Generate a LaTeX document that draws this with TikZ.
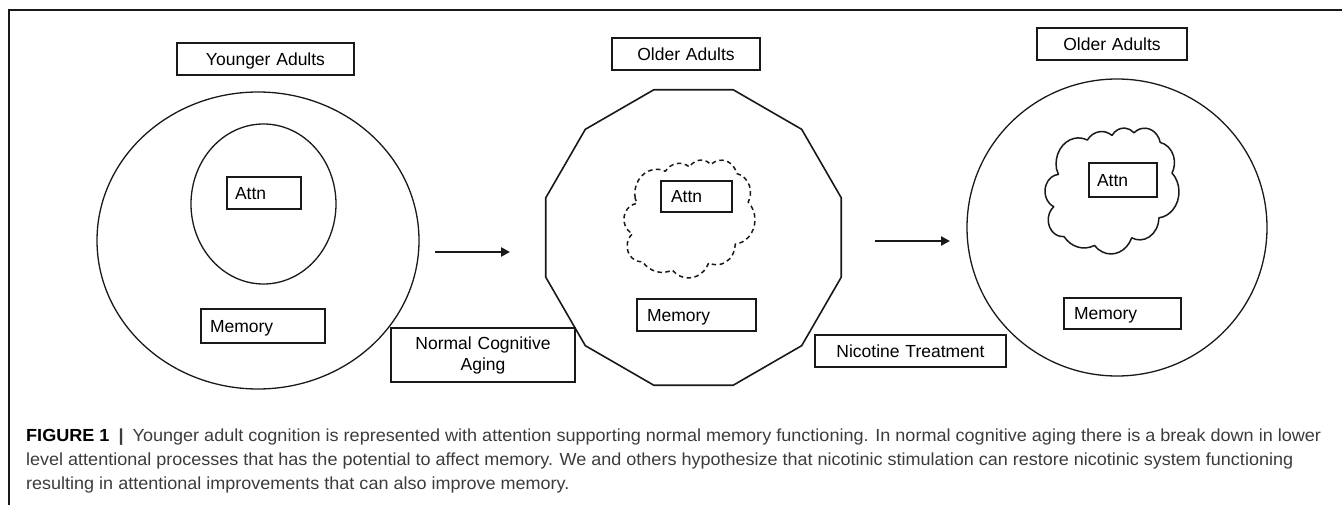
\documentclass[tikz,border=0pt]{standalone}
\usepackage{fontspec}
\setmainfont{Liberation Sans}
\usetikzlibrary{shapes.geometric,arrows.meta}
\definecolor{ink}{RGB}{25,25,25}
\definecolor{captext}{RGB}{60,60,60}
\newlength\capw
\newcommand\captwo{level attentional processes that has the potential to affect memory. We and others hypothesize that nicotinic stimulation can restore nicotinic system functioning}
\tikzset{
  x=1pt, y=-1pt,
  outline/.style={draw=ink, line width=1.3pt, inner sep=0pt},
  tagbox/.style 2 args={draw=ink, line width=1.6pt, fill=white, inner ysep=0pt,
    inner xsep=9pt, minimum width=#1, minimum height=#2,
    text width=#1-18pt, font=\fontsize{17.5}{21}\selectfont,
    text height=12.5pt, text depth=0pt},
  leftbox/.style 2 args={tagbox={#1}{#2}, align=left},
  midbox/.style 2 args={tagbox={#1}{#2}, align=center},
  flow/.style={draw=ink, line width=2.4pt, -{Triangle[length=9pt,width=9pt]}},
  capline/.style={anchor=base west, inner sep=0pt, text=captext,
    font=\fontsize{17.5}{24}\selectfont},
  % eleven-puff cloud outline drawn in a 432 x 445 unit frame
  puffcloud/.pic={
    \draw[pic actions, line join=round]
      (39,143.7)
      arc[start angle=-190.487, delta angle=123.781, x radius=67.53, y radius=91.90]
      arc[start angle=-144.102, delta angle=89.945,  x radius=53.33, y radius=72.67]
      arc[start angle=-145.808, delta angle=99.723,  x radius=43.65, y radius=59.45]
      arc[start angle=-130.986, delta angle=117.242, x radius=48.57, y radius=65.95]
      arc[start angle=-78.709,  delta angle=109.027, x radius=53.33, y radius=72.73]
      arc[start angle=-46.267,  delta angle=130.269, x radius=67.75, y radius=92.20]
      arc[start angle=0.625,    delta angle=114.033, x radius=57.85, y radius=78.67]
      arc[start angle=22.452,   delta angle=115.173, x radius=67.52, y radius=92.15]
      arc[start angle=66.243,   delta angle=75.711,  x radius=77.20, y radius=105.43]
      arc[start angle=-274.942, delta angle=146.736, x radius=43.60, y radius=59.18]
      arc[start angle=-246.829, delta angle=152.519, x radius=43.45, y radius=59.45]
      -- cycle;
  },
}
\begin{document}
\begin{tikzpicture}
\useasboundingbox[fill=white] (0,0) rectangle (1342,505);

% frame rules along the top and the left
\coordinate (frameTop) at (1342,10);
\coordinate (frameCorner) at (9,10);
\coordinate (frameBottom) at (9,505);
\draw[ink, line width=1.4pt] (frameBottom) -- (frameCorner) -- (frameTop);

% younger adults: attention as a clean inner ellipse
\node[outline, ellipse, minimum width=322, minimum height=297] (young) at (258,240.5) {};
\node[outline, ellipse, minimum width=145, minimum height=160] (youngAttn) at (263.5,204) {};

% older adults: broken-down outline and dashed attention cloud
\node[outline, line width=1.6pt, regular polygon, regular polygon sides=12,
      minimum size=306] (aged) at (693.5,237.5) {};
\pic[draw=ink, line width=1.5pt, dash pattern=on 4.5pt off 3.5pt,
     xscale=0.3243, yscale=0.2652] (agedAttn) at (622.5,160) {puffcloud};

% older adults after nicotine: round outline, solid attention cloud
\node[outline, ellipse, minimum width=300, minimum height=297] (treated) at (1117,227.5) {};
\pic[draw=ink, line width=1.5pt,
     xscale=0.3317, yscale=0.2831] (treatedAttn) at (1043.5,128) {puffcloud};

% labels
\node[midbox={177pt}{32pt}] (youngTitle) at (265.5,59) {Younger Adults};
\node[leftbox={74pt}{32pt}, inner xsep=8pt, text width=58pt] (attnA) at (264,193) {Attn};
\node[leftbox={124pt}{34pt}] (memA) at (263,326) {Memory};

\node[midbox={148pt}{32pt}] (agedTitle) at (686,54) {Older Adults};
\node[leftbox={71pt}{31pt}, inner xsep=10pt, text width=51pt] (attnB) at (696.5,196.5) {Attn};
\node[leftbox={119pt}{32pt}, inner xsep=10pt, text width=99pt] (memB) at (696.5,315) {Memory};

\node[midbox={150pt}{32pt}] (treatedTitle) at (1112,44) {Older Adults};
\node[leftbox={68pt}{34pt}, inner xsep=8pt, text width=52pt] (attnC) at (1123,180) {Attn};
\node[leftbox={117pt}{31pt}, inner xsep=10pt, text width=97pt] (memC) at (1122.5,313.5) {Memory};

\node[midbox={184pt}{54pt}, text height=, text depth=] (agingTag) at (483,355)
  {Normal Cognitive\\Aging};
\node[midbox={191pt}{32pt}] (nicTag) at (910.5,351) {Nicotine Treatment};

% transitions
\coordinate (agingFrom) at (435,252);
\coordinate (agingTo) at (510,252);
\coordinate (nicFrom) at (875,241);
\coordinate (nicTo) at (950,241);
\draw[flow] (agingFrom) -- (agingTo);
\draw[flow] (nicFrom) -- (nicTo);

% caption, one node per printed line
\node[capline] (capA) at (26,441) {\resizebox{1295pt}{\height}{\textcolor{black}{\textbf{FIGURE 1}}\enspace\textbf{|}\enspace Younger adult cognition is represented with attention supporting normal memory functioning. In normal cognitive aging there is a break down in lower}};
\node[capline] (capB) at (26,465) {\resizebox{1267pt}{\height}{\captwo}};
\node[capline] (capC) at (26,489) {\settowidth{\capw}{\captwo}%
  \pgfmathsetmacro{\capsc}{1267/\capw}%
  \scalebox{\capsc}[1]{resulting in attentional improvements that can also improve memory.}};
\end{tikzpicture}
\end{document}
